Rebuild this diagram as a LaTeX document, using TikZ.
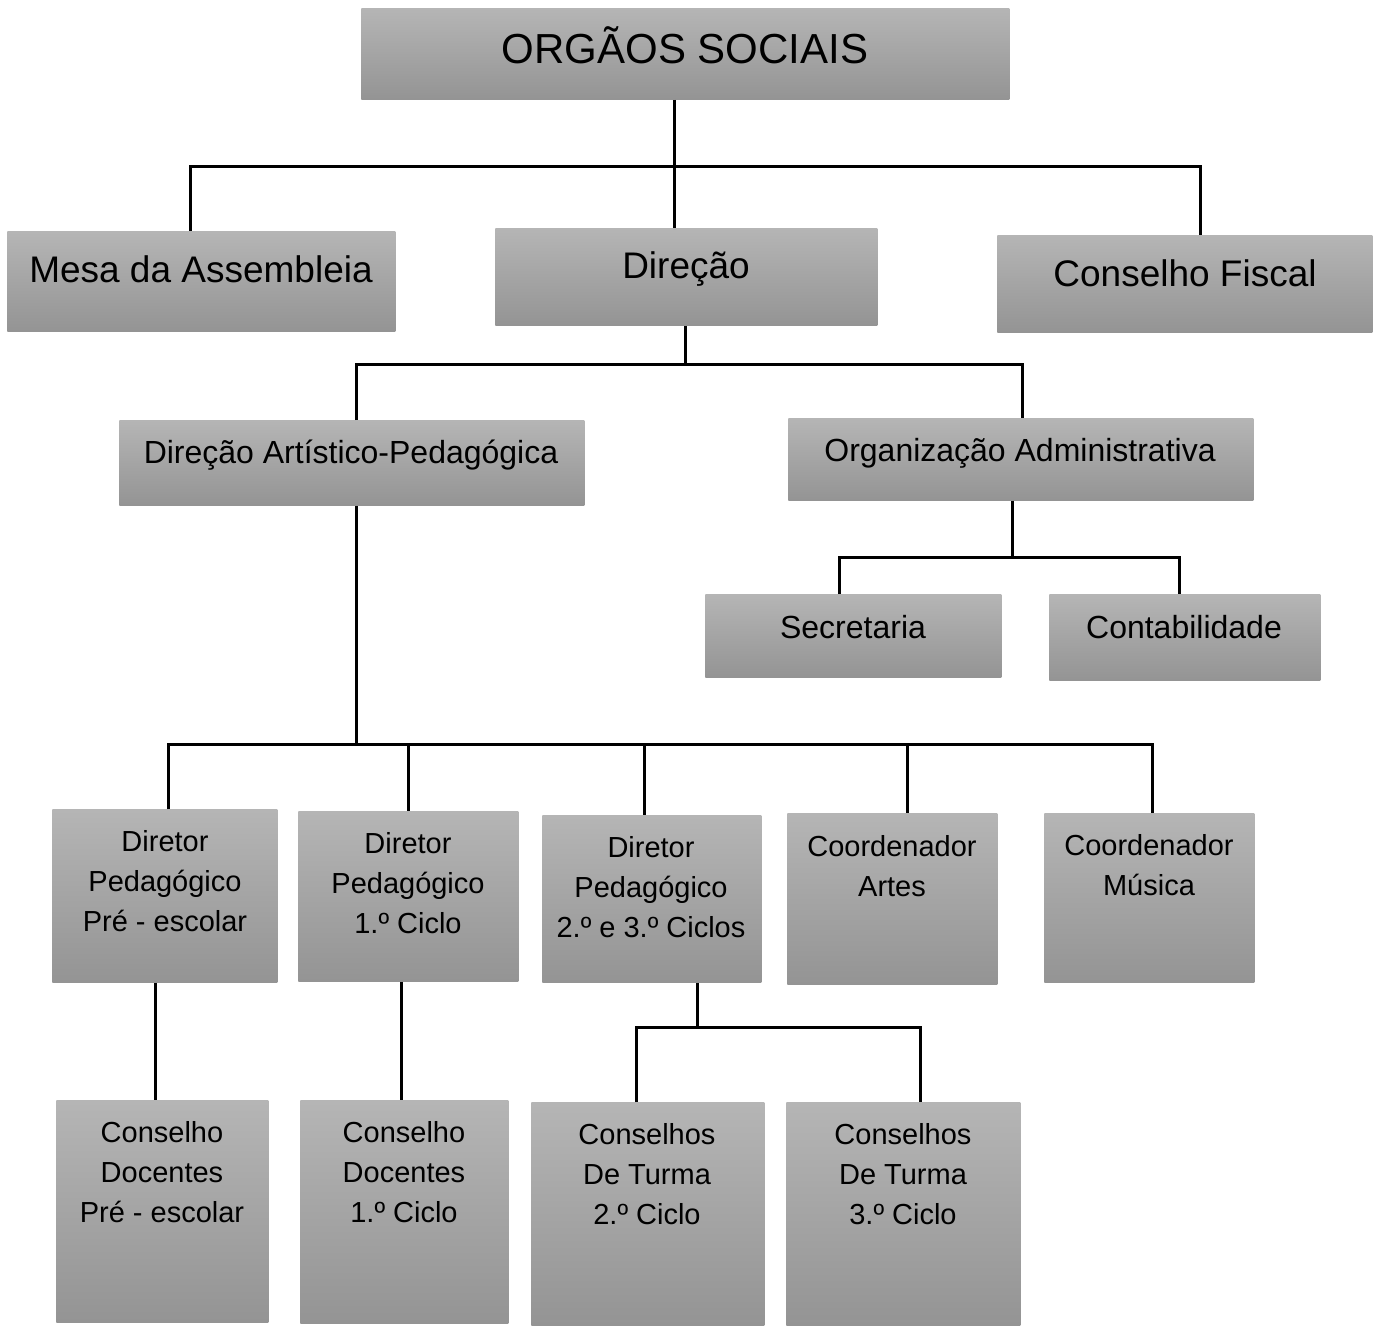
\documentclass[tikz,border=0pt]{standalone}
\usepackage{fontspec}
\setmainfont{Liberation Sans}
\usetikzlibrary{calc}

\tikzset{
	orgbox/.style 2 args={anchor=north west, inner sep=0pt, draw=none,
		top color=black!29, bottom color=black!42,
		minimum width=#1*0.5pt, minimum height=#2*0.5pt},
	link/.style={line width=1.5pt, color=black},
	bigtxt/.style={font=\fontsize{21}{25}\selectfont},
	midtxt/.style={font=\fontsize{18.5}{22}\selectfont},
	subtxt/.style={font=\fontsize{16}{20}\selectfont},
	smalltxt/.style={font=\fontsize{14.5}{20}\selectfont, align=center}
}

\begin{document}
\begin{tikzpicture}[x=0.5pt, y=-0.5pt]
			%%%%% START %%%%%
			\useasboundingbox (0,0) rectangle (1375,1326);
			
			% boxes
			\node[orgbox={648}{91}] (orgaos) at (361,8) {};
			\node[orgbox={388}{100}] (mesa) at (7,231) {};
			\node[orgbox={382}{97}] (direcao) at (495,228) {};
			\node[orgbox={375}{97}] (fiscal) at (997,235) {};
			
			\node[orgbox={465}{85}] (dap) at (119,420) {};
			\node[orgbox={465}{82}] (orgadm) at (788,418) {};
			\node[orgbox={296}{83}] (secret) at (705,594) {};
			\node[orgbox={271}{86}] (contab) at (1049,594) {};
			
			\node[orgbox={225}{173}] (dirpre) at (52,809) {};
			\node[orgbox={220}{170}] (dirum) at (298,811) {};
			\node[orgbox={219}{167}] (dirdt) at (542,815) {};
			\node[orgbox={210}{171}] (coordart) at (787,813) {};
			\node[orgbox={210}{169}] (coordmus) at (1044,813) {};
			
			\node[orgbox={212}{222}] (consdpre) at (56,1100) {};
			\node[orgbox={208}{223}] (consdum) at (300,1100) {};
			\node[orgbox={233}{223}] (constd) at (531,1102) {};
			\node[orgbox={234}{223}] (constt) at (786,1102) {};
			
			% texts
			\node[bigtxt] (torgaos) at (685,45) {ORGÃOS SOCIAIS};
			\node[midtxt] (tmesa) at (201,269) {Mesa da Assembleia};
			\node[midtxt] (tdirecao) at (686,269) {Direção};
			\node[midtxt] (tfiscal) at (1185,273) {Conselho Fiscal};
			
			\node[subtxt] (tdap) at (351,455) {Direção Artístico-Pedagógica};
			\node[subtxt] (torgadm) at (1020,453) {Organização Administrativa};
			\node[subtxt] (tsecret) at (853,627) {Secretaria};
			\node[subtxt] (tcontab) at (1184,627) {Contabilidade};
			
			\node[smalltxt] (tdirpre) at (165,881) {Diretor\\Pedagógico\\Pré - escolar};
			\node[smalltxt] (tdirum) at (408,883) {Diretor\\Pedagógico\\1.º Ciclo};
			\node[smalltxt] (tdirdt) at (651,887) {Diretor\\Pedagógico\\2.º e 3.º Ciclos};
			\node[smalltxt] (tcoordart) at (892,866) {Coordenador\\Artes};
			\node[smalltxt] (tcoordmus) at (1149,865) {Coordenador\\Música};
			
			\node[smalltxt] (tconsdpre) at (162,1172) {Conselho\\Docentes\\Pré - escolar};
			\node[smalltxt] (tconsdum) at (404,1172) {Conselho\\Docentes\\1.º Ciclo};
			\node[smalltxt] (tconstd) at (647,1174) {Conselhos\\De Turma\\2.º Ciclo};
			\node[smalltxt] (tconstt) at (903,1174) {Conselhos\\De Turma\\3.º Ciclo};
			
			% connectors
			\draw[link] (674,0 |- orgaos.south) -- (674,0 |- direcao.north);
			\draw[link] (190,0 |- mesa.north) |- (1200,167) -- (1200,0 |- fiscal.north);
			
			\draw[link] (685,0 |- direcao.south) -- (685,365);
			\draw[link] (356,0 |- dap.north) |- (1022,365) -- (1022,0 |- orgadm.north);
			
			\draw[link] (1012,0 |- orgadm.south) -- (1012,557);
			\draw[link] (839,0 |- secret.north) |- (1179,557) -- (1179,0 |- contab.north);
			
			\draw[link] (356,0 |- dap.south) -- (356,744);
			\draw[link] (168,0 |- dirpre.north) |- (1152,744) -- (1152,0 |- coordmus.north);
			\draw[link] (408,744) -- (408,0 |- dirum.north);
			\draw[link] (644,744) -- (644,0 |- dirdt.north);
			\draw[link] (907,744) -- (907,0 |- coordart.north);
			
			\draw[link] (155,0 |- dirpre.south) -- (155,0 |- consdpre.north);
			\draw[link] (401,0 |- dirum.south) -- (401,0 |- consdum.north);
			
			\draw[link] (697,0 |- dirdt.south) -- (697,1027);
			\draw[link] (636,0 |- constd.north) |- (920,1027) -- (920,0 |- constt.north);
			%%%%% END %%%%%
\end{tikzpicture}
\end{document}
